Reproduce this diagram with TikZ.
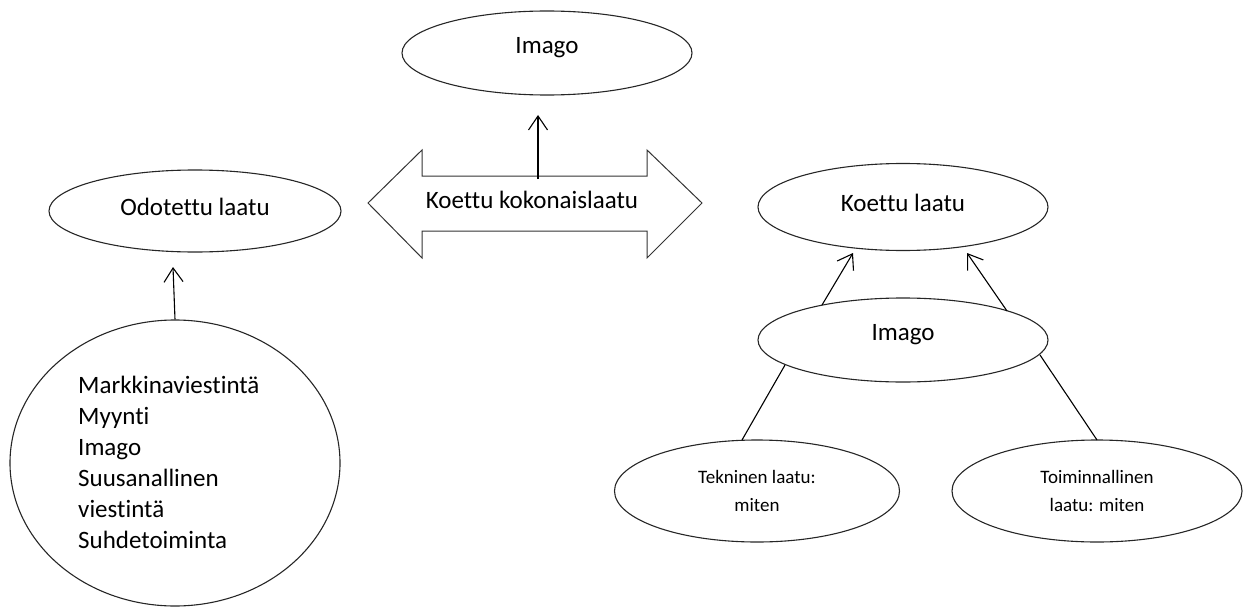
\documentclass[tikz,border=0pt]{standalone}
\usepackage{fontspec}
\setmainfont[Ligatures=NoCommon]{Carlito}
\usetikzlibrary{shapes.geometric,arrows.meta}
\tikzset{
  oval/.style={draw=black!85, line width=1.1pt, ellipse, inner sep=0pt},
  txt/.style={inner sep=0pt, font=\fontsize{25}{31}\selectfont},
  smalltxt/.style={inner sep=0pt, align=center, font=\fontsize{19}{28}\selectfont},
  conn/.style={draw=black, line width=1.1pt},
  arr/.style={conn, -{Straight Barb[length=14pt,width=19pt,line width=1.1pt]}},
}
\begin{document}
\begin{tikzpicture}[x=1pt,y=-1pt]
\useasboundingbox (0,0) rectangle (1246,607);
% ellipses
\node[oval, minimum width=290pt, minimum height=84pt] (imtop) at (547,53) {};
\node[oval, minimum width=292pt, minimum height=82pt] (odot) at (195,211) {};
\node[oval, minimum width=330pt, minimum height=286pt] (circ) at (175,463) {};
\node[oval, minimum width=290pt, minimum height=87pt] (koet) at (903,207) {};
\node[oval, minimum width=290pt, minimum height=84pt] (imr) at (903,340) {};
\node[oval, minimum width=285pt, minimum height=102pt] (tek) at (757,491) {};
\node[oval, minimum width=290pt, minimum height=102pt] (toim) at (1097,491) {};
% texts
\node[txt] (imtopt) at (547,48) {Imago};
\node[txt] (odott) at (195,207) {Odotettu laatu};
\node[txt] (koett) at (903,203) {Koettu laatu};
\node[txt] (imrt) at (903,335) {Imago};
\node[smalltxt] (tekt) at (757,491) {Tekninen laatu:\\miten};
\node[smalltxt] (toimt) at (1097,491) {Toiminnallinen\\laatu: miten};
\node[txt, align=left, anchor=north west] (circt) at (78,376)
  {Markkinaviestintä\\Myynti\\Imago\\Suusanallinen\\viestintä\\Suhdetoiminta};
% double arrow
\draw[draw=black!80, line width=1pt] (368,203) -- (422,150) -- (422,176) -- (647,176)
  -- (647,150) -- (702,203) -- (647,258) -- (647,231) -- (422,231) -- (422,258) -- cycle;
\node[txt] (kok) at (532,200) {Koettu kokonaislaatu};
% coordinates
\coordinate (dtop) at (538,179);
\coordinate (dend) at (538,115);
\coordinate (oend) at (173,267);
\coordinate (l1s) at (822,305);
\coordinate (l1e) at (853,253);
\coordinate (r1s) at (1007,311);
\coordinate (r1e) at (967,253);
\coordinate (l2a) at (785,365);
\coordinate (l2b) at (742,440);
\coordinate (r2a) at (1040,355);
\coordinate (r2b) at (1097,440);
% connectors
\draw[arr] (dtop) -- (dend);
\draw[arr] (circ.north) -- (oend);
\draw[arr] (l1s) -- (l1e);
\draw[arr] (r1s) -- (r1e);
\draw[conn] (l2b) -- (l2a);
\draw[conn] (r2b) -- (r2a);
\end{tikzpicture}
\end{document}
